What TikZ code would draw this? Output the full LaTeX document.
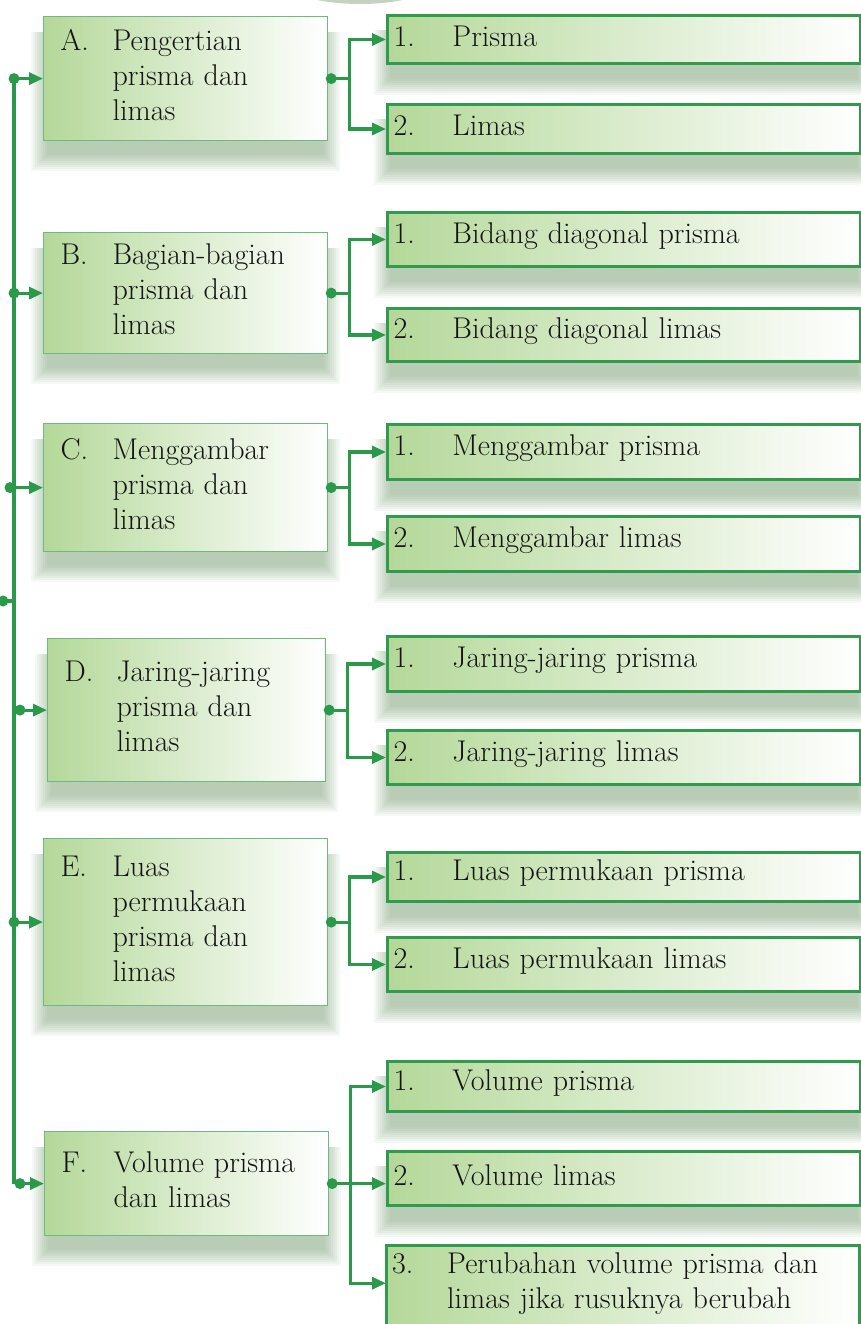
\documentclass[tikz,border=0pt]{standalone}
\usetikzlibrary{arrows.meta,backgrounds}
\definecolor{lineg}{HTML}{2A9A4A}
\definecolor{lborder}{HTML}{6DB97F}
\definecolor{rborder}{HTML}{309B4D}
\definecolor{fillg}{HTML}{B4D899}
\definecolor{shad}{HTML}{4F8048}
\definecolor{topband}{HTML}{C3D3BF}
\newcommand{\lt}[2]{\raisebox{3.5pt}[\height][\depth]{\makebox[52pt][l]{#1}\parbox[t]{220pt}{#2}}}
\newcommand{\rt}[2]{\raisebox{3.5pt}[\height][\depth]{\makebox[59pt][l]{#1}\parbox[t]{400pt}{#2}}}
\tikzset{
  boxbase/.style={anchor=north west, inner ysep=0pt, align=left,
    font=\fontsize{30}{35}\selectfont, text=black!92},
  lbox/.style={boxbase, draw=lborder, line width=1.2pt, left color=fillg, right color=white,
    inner xsep=17pt},
  rbox/.style={boxbase, draw=rborder, line width=3pt, left color=fillg, right color=white,
    inner xsep=6pt},
  conn/.style={draw=lineg, line width=3.2pt},
  arr/.style={conn, -{Triangle[length=14pt,width=12pt]}},
  dotc/.style={circle, fill=lineg, inner sep=0pt, minimum size=11pt},
  shadowfill/.style={fill=shad, opacity=0.055}
}
\newcommand{\boxshadow}[1]{%
  \foreach \e in {2,4,...,18}{%
    \fill[shadowfill] ([xshift=-\e pt+6pt, yshift=-16pt]#1.north west)
      rectangle ([xshift=\e pt-6pt, yshift=-12pt-\e pt]#1.south east);
  }%
}
\begin{document}
\begin{tikzpicture}[x=1pt,y=-1pt]
\useasboundingbox (0,0) rectangle (860,1324);
\fill[topband] (360,-22) ellipse [x radius=80, y radius=26];

% left boxes
\node[lbox, minimum width=284pt, minimum height=124pt, text width=250pt] (A) at (43,16)
  {\lt{A.}{Pengertian\\prisma dan\\limas}};
\node[lbox, minimum width=284pt, minimum height=121pt, text width=250pt] (B) at (43,232)
  {\lt{B.}{Bagian-bagian\\prisma dan\\limas}};
\node[lbox, minimum width=284pt, minimum height=128pt, text width=250pt] (C) at (43,423)
  {\lt{C.}{Menggambar\\prisma dan\\limas}};
\node[lbox, minimum width=278pt, minimum height=143pt, text width=244pt] (D) at (47,638)
  {\lt{D.}{Jaring-jaring\\prisma dan\\limas}};
\node[lbox, minimum width=284pt, minimum height=167pt, text width=250pt] (E) at (43,838)
  {\lt{E.}{Luas\\permukaan\\prisma dan\\limas}};
\node[lbox, minimum width=284pt, minimum height=104pt, text width=250pt] (F) at (44,1131)
  {\lt{F.}{Volume prisma\\dan limas}};

% right boxes
\node[rbox, minimum width=473pt, minimum height=48pt, text width=461pt] (A1) at (386,14) {\rt{1.}{Prisma}};
\node[rbox, minimum width=473pt, minimum height=49pt, text width=461pt] (A2) at (386,103) {\rt{2.}{Limas}};
\node[rbox, minimum width=473pt, minimum height=54pt, text width=461pt] (B1) at (386,211) {\rt{1.}{Bidang diagonal prisma}};
\node[rbox, minimum width=473pt, minimum height=53pt, text width=461pt] (B2) at (386,307) {\rt{2.}{Bidang diagonal limas}};
\node[rbox, minimum width=473pt, minimum height=55pt, text width=461pt] (C1) at (386,423) {\rt{1.}{Menggambar prisma}};
\node[rbox, minimum width=473pt, minimum height=55pt, text width=461pt] (C2) at (386,515) {\rt{2.}{Menggambar limas}};
\node[rbox, minimum width=473pt, minimum height=55pt, text width=461pt] (D1) at (386,635) {\rt{1.}{Jaring-jaring prisma}};
\node[rbox, minimum width=473pt, minimum height=54pt, text width=461pt] (D2) at (386,729) {\rt{2.}{Jaring-jaring limas}};
\node[rbox, minimum width=473pt, minimum height=49pt, text width=461pt] (E1) at (386,851) {\rt{1.}{Luas permukaan prisma}};
\node[rbox, minimum width=473pt, minimum height=54pt, text width=461pt] (E2) at (386,936) {\rt{2.}{Luas permukaan limas}};
\node[rbox, minimum width=473pt, minimum height=50pt, text width=461pt] (F1) at (386,1060) {\rt{1.}{Volume prisma}};
\node[rbox, minimum width=473pt, minimum height=54pt, text width=461pt] (F2) at (386,1150) {\rt{2.}{Volume limas}};
\node[boxbase, inner xsep=6pt, minimum width=473pt, minimum height=76pt, text width=461pt] (F3) at (386,1245)
  {\makebox[55pt][l]{3.}\parbox[t]{405pt}{Perubahan volume prisma dan\\limas jika rusuknya berubah}};

\begin{scope}[on background layer]
  \foreach \n in {A,B,C,D,E,F,A1,A2,B1,B2,C1,C2,D1,D2,E1,E2,F1,F2}{\boxshadow{\n}}
  \path[draw=rborder, line width=3pt, left color=fillg, right color=white]
    (F3.south west) ++(0,30) -- (F3.north west) -- (F3.north east) -- ++(0,110);
\end{scope}

% left spine
\coordinate (root) at (3,601);
\coordinate (sTop) at (14,0 |- A.west);
\coordinate (sBot) at (14,0 |- F.west);
\draw[conn] (sTop) -- (sBot);
\node[dotc] (rootdot) at (root) {};
\draw[conn] (rootdot.center) -- (16,601);
\node[dotc] (da) at (14,0 |- A.west) {};
\node[dotc] (db) at (14,0 |- B.west) {};
\node[dotc] (dc) at (10,0 |- C.west) {};
\node[dotc] (dd) at (20,0 |- D.west) {};
\node[dotc] (de) at (14,0 |- E.west) {};
\node[dotc] (df) at (20,0 |- F.west) {};
\foreach \d/\b in {da/A,db/B,dc/C,dd/D,de/E,df/F}{
  \draw[arr] (\d.center) -- (\b.west);
}

% branches
\foreach \b/\u/\l in {A/A1/A2,B/B1/B2,C/C1/C2,D/D1/D2,E/E1/E2}{
  \node[dotc] (\b d) at ([xshift=3pt]\b.east) {};
  \draw[conn] (\b d.center) -- ++(18,0) coordinate (\b j);
  \draw[arr] (\b j) |- (\u.west);
  \draw[arr] (\b j) |- (\l.west);
}
\node[dotc] (Fd) at ([xshift=3pt]F.east) {};
\draw[conn] (Fd.center) -- ++(18,0) coordinate (Fj);
\draw[arr] (Fj) |- (F1.west);
\draw[arr] (Fd.center) -- (F2.west |- Fd.center);
\draw[arr] (Fj) |- (F3.west);
\end{tikzpicture}
\end{document}
